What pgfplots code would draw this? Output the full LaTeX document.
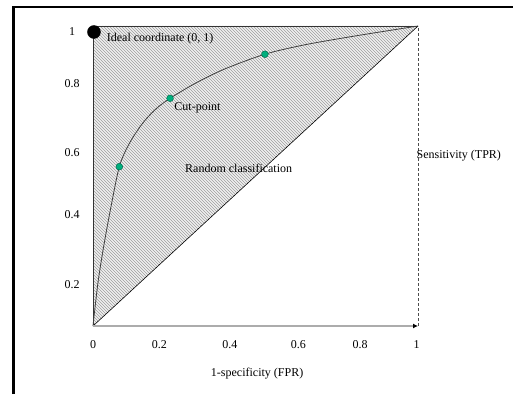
\documentclass[border=0pt]{standalone}
\usepackage{pgfplots}
\pgfplotsset{compat=1.18}
\usepackage{fontspec}
\setmainfont{Liberation Serif}
\usetikzlibrary{patterns,arrows.meta}
\definecolor{cutgreen}{RGB}{0,175,125}
\definecolor{cutedge}{RGB}{0,95,70}
\begin{document}
\begin{tikzpicture}[font=\fontsize{12}{14}\selectfont]
\begin{axis}[
  at={(93pt,68pt)}, anchor=south west,
  scale only axis, width=325pt, height=300pt,
  xmin=0, xmax=1, ymin=0, ymax=1,
  clip=false,
  axis line style={draw=none},
  major tick length=0pt,
  xtick={0,0.204,0.4215,0.632,0.822,0.996},
  xticklabels={0,0.2,0.4,0.6,0.8,1},
  ytick={0.137,0.373,0.577,0.807,0.98},
  yticklabels={0.2,0.4,0.6,0.8,1},
  xticklabel style={anchor=center, yshift=-19pt, font=\fontsize{12}{14}\selectfont},
  yticklabel style={anchor=center, xshift=-21pt, font=\fontsize{12}{14}\selectfont},
]
% hatched triangle
\addplot[fill=gray!12, draw=none] coordinates {(0,0) (0,1) (1,1)} -- cycle;
\addplot[draw=none, pattern=north west lines, pattern color=black!38] coordinates {(0,0) (0,1) (1,1)} -- cycle;
% triangle edges
\addplot[black!80, line width=0.6pt] coordinates {(0,0) (0,1) (1,1)};
% random classification diagonal
\addplot[black, line width=0.6pt] coordinates {(0,0) (1,1)};
% ROC curve
\addplot[black!75, line width=0.8pt, smooth] coordinates {
(0,0) (0.005,0.05) (0.016,0.15) (0.032,0.26) (0.054,0.39) (0.081,0.531)
(0.11,0.605) (0.15,0.672) (0.19,0.72) (0.237,0.759) (0.32,0.812) (0.406,0.857)
(0.529,0.906) (0.65,0.937) (0.78,0.962) (0.9,0.983) (1,1)};
% x axis with arrow
\addplot[gray!65, line width=1.8pt, -{Latex[black,length=5pt,width=5pt]}] coordinates {(0,0) (1,0)};
% dashed right line
\addplot[black!70, densely dashed, line width=0.7pt] coordinates {(1,0) (1,1)};
% cut-points
\addplot[only marks, mark=*, mark size=3.4pt, mark options={fill=cutgreen, draw=cutedge, line width=0.4pt}] coordinates {(0.081,0.531) (0.237,0.759) (0.529,0.906)};
% ideal point
\addplot[only marks, mark=*, mark size=6.5pt, black] coordinates {(0.003,0.98)};
% texts
\node[anchor=west, inner sep=0pt] at (axis cs:0.042,0.957) {Ideal coordinate (0, 1)};
\node[anchor=west, inner sep=0pt] at (axis cs:0.25,0.726) {Cut-point};
\node[anchor=west, inner sep=0pt] at (axis cs:0.283,0.526) {Random classification};
\node[anchor=west, inner sep=0pt] at (axis cs:0.995,0.567) {Sensitivity (TPR)};
\node[inner sep=0pt] at (axis cs:0.505,-0.157) {1-specificity (FPR)};
\end{axis}
\draw[line width=2.2pt] (13.5pt,0pt) -- (13.5pt,387pt) -- (513pt,387pt);
\pgfresetboundingbox
\path[use as bounding box] (0pt,0pt) rectangle (513pt,394pt);
\end{tikzpicture}
\end{document}
